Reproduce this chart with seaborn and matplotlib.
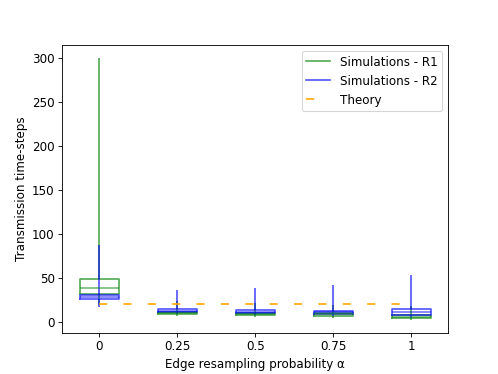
import numpy as np
import matplotlib
matplotlib.use('Agg')
import matplotlib.pyplot as plt
from matplotlib.lines import Line2D
import pandas as pd
import seaborn as sns

alphas = ['0', '0.25', '0.5', '0.75', '1']

# five-number summaries (min, q1, median, q3, max)
r1_stats = [
    [20, 32, 39.5, 49.5, 300],
    [7, 9.5, 11, 12, 24],
    [6, 8.5, 10, 11, 22],
    [5, 7.5, 9, 10.5, 20],
    [3, 4.5, 6, 8, 19],
]
r2_stats = [
    [17, 26, 28.5, 31, 88],
    [10, 11.5, 13, 15, 37],
    [8, 10.5, 12, 14.5, 39],
    [7, 10, 11.5, 13.5, 43],
    [5, 8, 11.7, 15.5, 54],
]
theory = [21, 21, 21, 21, 21]


def long_form(stats):
    rows = []
    for a, s in zip(alphas, stats):
        for v in s:
            rows.append({'alpha': a, 'steps': v})
    return pd.DataFrame(rows)


df1 = long_form(r1_stats)
df2 = long_form(r2_stats)

plt.rcParams['font.size'] = 11
fig, ax = plt.subplots(figsize=(498/78, 374/78), dpi=78)


def draw(df, col):
    kw = dict(color=col, alpha=0.7)
    sns.boxplot(data=df, x='alpha', y='steps', order=alphas, ax=ax,
                fill=False, color=col, whis=(0, 100), showcaps=False,
                width=0.5, linewidth=1.5,
                boxprops=kw, whiskerprops=kw, medianprops=dict(color=col, alpha=0.55))


draw(df1, 'green')
draw(df2, 'blue')

ax.plot(range(len(alphas)), theory, color='orange', lw=1.5,
        linestyle=(0, (5, 10)))

handles = [
    Line2D([], [], color='green', alpha=0.7, lw=1.5, label='Simulations - R1'),
    Line2D([], [], color='blue', alpha=0.7, lw=1.5, label='Simulations - R2'),
    Line2D([], [], color='orange', lw=1.5, linestyle=(0, (5, 10)), label='Theory'),
]
ax.legend(handles=handles, loc='upper right')

ax.set_xlabel('Edge resampling probability α')
ax.set_ylabel('Transmission time-steps')

fig.savefig('out.png', dpi=78)
